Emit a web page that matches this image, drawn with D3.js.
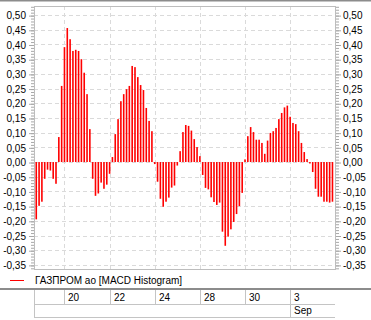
<!DOCTYPE html>
<html>
<head>
<meta charset="utf-8">
<script src="https://cdn.jsdelivr.net/npm/d3@7"></script>
<style>
  body { margin: 0; background: #fff; }
  text { font-family: "Liberation Sans", Arial, sans-serif; font-size: 10px; fill: #000; }
</style>
</head>
<body>
<svg width="371" height="320"></svg>
<script>
var width = 371;
var height = 320;

// MACD histogram, one value per bar (hourly)
var barValues = [
  -0.195, -0.149, -0.135, -0.057, -0.026, -0.029, -0.057, -0.074, 0.085, 0.259,
  0.391, 0.456, 0.418, 0.378, 0.382, 0.378, 0.350, 0.304, 0.231, 0.112,
  -0.057, -0.115, -0.107, -0.070, -0.091, -0.077, -0.040, 0.017, 0.095, 0.146,
  0.207, 0.231, 0.248, 0.259, 0.327, 0.323, 0.289, 0.262, 0.245, 0.184,
  0.140, 0.105, -0.007, -0.067, -0.125, -0.152, -0.135, -0.121, -0.087, -0.080,
  -0.012, 0.037, 0.102, 0.126, 0.123, 0.107, 0.078, 0.051, 0.020, -0.044,
  -0.088, -0.093, -0.120, -0.136, -0.146, -0.138, -0.237, -0.285, -0.254, -0.229,
  -0.204, -0.177, -0.150, -0.105, 0.009, 0.088, 0.119, 0.102, 0.076, 0.076,
  0.065, 0.028, 0.073, 0.099, 0.105, 0.116, 0.146, 0.167, 0.186, 0.192,
  0.154, 0.133, 0.129, 0.105, 0.065, 0.034, 0.010, -0.005, -0.034, -0.091,
  -0.118, -0.118, -0.135, -0.135, -0.138, -0.135
];

var yTickValues = [-0.35, -0.30, -0.25, -0.20, -0.15, -0.10, -0.05, 0, 0.05, 0.10, 0.15, 0.20, 0.25, 0.30, 0.35, 0.40, 0.45, 0.50];
var dayLabels = ["20", "22", "24", "28", "30", "3"];
var dayIndex = [10, 26, 42, 58, 74, 90];
var monthLabels = ["Sep"];
var monthIndex = [90];
var seriesName = "ГАЗПРОМ ао [MACD Histogram]";

var plot = {left: 34, right: 335, top: 6, bottom: 269};

var x = d3.scaleLinear().domain([-0.8, 105.9]).range([plot.left, plot.right]);
var y = d3.scaleLinear().domain([-0.364, 0.531]).range([plot.bottom, plot.top]);

var ru = d3.formatLocale({decimal: ",", thousands: " ", grouping: [3], currency: ["", ""], minus: "-"});
var fmt = ru.format(".2f");

var svg = d3.select('svg');

// top frame line
svg.append('rect').attr('x', 0).attr('y', 0).attr('width', width).attr('height', 1.5).attr('fill', '#8c8c8c');

// grid
svg.append('g').selectAll('line').data(yTickValues).enter().append('line')
    .attr('x1', plot.left).attr('x2', plot.right)
    .attr('y1', d => Math.round(y(d)) + 0.5).attr('y2', d => Math.round(y(d)) + 0.5)
    .attr('stroke', '#dadada').attr('stroke-dasharray', '4,3');
svg.append('g').selectAll('line').data(dayIndex).enter().append('line')
    .attr('x1', d => Math.round(x(d)) + 0.5).attr('x2', d => Math.round(x(d)) + 0.5)
    .attr('y1', plot.top).attr('y2', plot.bottom)
    .attr('stroke', '#dadada').attr('stroke-dasharray', '4,3');

// bars
svg.append('g').selectAll('rect').data(barValues).enter().append('rect')
    .attr('x', (d, i) => x(i) - 0.8)
    .attr('width', 1.6)
    .attr('y', d => Math.min(y(d), y(0)))
    .attr('height', d => Math.abs(y(d) - y(0)))
    .attr('fill', '#ff0000');

// border
svg.append('rect')
    .attr('x', plot.left + 0.5).attr('y', plot.top + 0.5)
    .attr('width', plot.right - plot.left).attr('height', plot.bottom - plot.top)
    .attr('fill', 'none').attr('stroke', '#bdbdbd');

// axes: minor ticks every 0.01, major every 0.05
var minorTicks = d3.range(-36, 54).map(d => d / 100);
function styleAxis(g) {
    g.select('.domain').remove();
    g.selectAll('.tick line').attr('stroke', '#a8a8a8');
    g.selectAll('.tick text').attr('font-family', null).attr('font-size', null);
}
svg.append('g').attr('transform', `translate(${plot.left},0.5)`)
    .call(d3.axisLeft(y).tickValues(minorTicks).tickSize(3).tickFormat(''))
    .call(styleAxis);
svg.append('g').attr('transform', `translate(${plot.left},0.5)`)
    .call(d3.axisLeft(y).tickValues(yTickValues).tickSize(5).tickPadding(3).tickFormat(fmt))
    .call(styleAxis);
svg.append('g').attr('transform', `translate(${plot.right + 1},0.5)`)
    .call(d3.axisRight(y).tickValues(minorTicks).tickSize(3).tickFormat(''))
    .call(styleAxis);
svg.append('g').attr('transform', `translate(${plot.right + 1},0.5)`)
    .call(d3.axisRight(y).tickValues(yTickValues).tickSize(5).tickPadding(2).tickFormat(fmt))
    .call(styleAxis);

// legend
svg.append('line').attr('x1', 10).attr('x2', 24).attr('y1', 280.5).attr('y2', 280.5)
    .attr('stroke', '#ff0000').attr('stroke-width', 1);
svg.append('text').attr('x', 35).attr('y', 284).text(seriesName);

// date table
svg.append('rect').attr('x', 0).attr('y', 288).attr('width', width).attr('height', 2).attr('fill', '#8c8c8c');
var table = svg.append('g').attr('stroke', '#c4c4c4').attr('shape-rendering', 'crispEdges');
table.append('line').attr('x1', plot.left).attr('x2', plot.right).attr('y1', 304.5).attr('y2', 304.5);
table.append('line').attr('x1', plot.left).attr('x2', plot.right).attr('y1', 317.5).attr('y2', 317.5);
table.append('line').attr('x1', plot.left + 0.5).attr('x2', plot.left + 0.5).attr('y1', 290).attr('y2', 318);
table.selectAll('.day').data(dayIndex).enter().append('line')
    .attr('x1', d => Math.round(x(d)) + 0.5).attr('x2', d => Math.round(x(d)) + 0.5)
    .attr('y1', 290).attr('y2', 305);
table.selectAll('.mon').data(monthIndex).enter().append('line')
    .attr('x1', d => Math.round(x(d)) + 0.5).attr('x2', d => Math.round(x(d)) + 0.5)
    .attr('y1', 305).attr('y2', 318);

svg.append('g').selectAll('text').data(dayLabels).enter().append('text')
    .attr('x', (d, i) => Math.round(x(dayIndex[i])) + 4)
    .attr('y', 301)
    .text(d => d);
svg.append('g').selectAll('text').data(monthLabels).enter().append('text')
    .attr('x', (d, i) => Math.round(x(monthIndex[i])) + 4)
    .attr('y', 314)
    .text(d => d);
</script>
</body>
</html>
